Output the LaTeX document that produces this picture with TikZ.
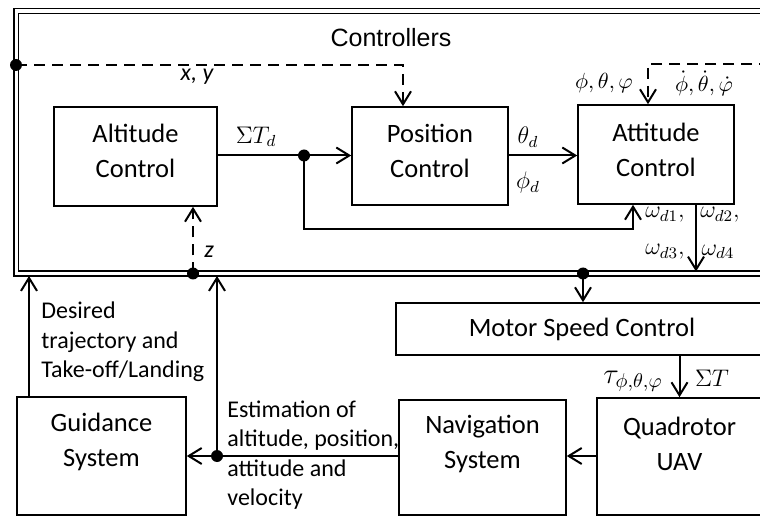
\documentclass[tikz,border=0pt]{standalone}
\usepackage{fontspec}
\setmainfont{Carlito}
\newfontfamily\titlefont{Liberation Sans}
\usetikzlibrary{arrows.meta,calc}
\newcommand\upx{0.5pt}
\begin{document}
\begin{tikzpicture}[x=0.5pt,y=-0.5pt,
  box/.style={draw, line width=0.8pt, inner sep=0pt},
  btext/.style={font=\fontsize{13.25}{17.5}\selectfont, align=center, inner sep=0pt},
  lbl/.style={font=\fontsize{12}{14.7}\selectfont, align=left, inner sep=0pt},
  mlbl/.style={font=\fontsize{12}{14}\selectfont, inner sep=0pt},
  slbl/.style={font=\fontsize{11}{13}\selectfont, inner sep=0pt},
  ln/.style={line width=1pt},
  arr/.style={line width=1pt, -{Straight Barb[length=6.5pt,width=8pt,line width=1pt]}},
  darr/.style={arr, dash pattern=on 5.5pt off 3.5pt},
  jdot/.style={circle, fill, inner sep=0pt, minimum size=6pt},
]
\useasboundingbox (0,0) rectangle (760,518);
\clip (0,0) rectangle (760,518);

% frame
\draw[line width=0.75pt, double, double distance=1.6pt] (16.3,11) rectangle (800,273.5);
\node[font=\titlefont\fontsize{12.5}{15}\selectfont] (title) at (391,38) {Controllers};

% boxes
\node[box, minimum width=163*\upx, minimum height=99*\upx] (alt) at (135.5,156.5) {};
\node[box, minimum width=156*\upx, minimum height=98*\upx] (pos) at (430,156) {};
\node[box, minimum width=156*\upx, minimum height=99*\upx] (att) at (656,154.5) {};
\node[box, btext, minimum width=372*\upx, minimum height=52*\upx] (mot) at (582,329) {Motor Speed Control};
\node[box, minimum width=169*\upx, minimum height=118*\upx] (gui) at (101.5,456) {};
\node[box, minimum width=167*\upx, minimum height=115*\upx] (nav) at (482.5,457.5) {};
\node[box, minimum width=165*\upx, minimum height=117*\upx] (quad) at (679.5,456.5) {};

\node[btext] (altT) at (135.5,150.5) {Altitude\\Control};
\node[btext] (posT) at (430,150.5) {Position\\Control};
\node[btext] (attT) at (656,150) {Attitude\\Control};
\node[btext] (guiT) at (101.5,441.5) {Guidance\\System};
\node[btext] (navT) at (482.5,444) {Navigation\\System};
\node[btext] (quadT) at (679.5,444) {Quadrotor\\UAV};

% junction dots
\node[jdot] (dxy) at (16,65) {};
\node[jdot] (dT) at (304,155.5) {};
\node[jdot] (dz) at (193,273.5) {};
\node[jdot] (dm) at (583,273.5) {};
\node[jdot] (dest) at (217,456) {};

% free ends
\coordinate (fb) at (633,229);
\coordinate (wdn) at (696,271.5);
\coordinate (rdash) at (770,64);
\coordinate (eup) at (217,276);
\coordinate (gup) at (29,276);

% connectors
\draw[darr] (dxy.center) -| ([xshift=-27*\upx]pos.north);
\draw[ln] (alt.east |- dT) -- (dT.center);
\draw[arr] (dT.center) -- (pos.west |- dT);
\draw[arr] (dT.center) |- (fb) -- (att.south -| fb);
\draw[arr] (pos.east |- dT) -- (att.west |- dT);
\draw[arr] (att.south -| wdn) -- (wdn);
\draw[darr] (rdash) -| ([xshift=-8*\upx]att.north);
\draw[darr] (dz.center) -- (alt.south -| dz);
\draw[arr] (dm.center) -- (mot.north -| dm);
\draw[arr] (quad.north |- mot.south) -- (quad.north);
\draw[arr] (quad.west |- dest) -- (nav.east |- dest);
\draw[ln] (nav.west |- dest) -- (dest.center);
\draw[arr] (dest.center) -- (gui.east |- dest);
\draw[arr] (dest.center) -- (eup);
\draw[arr] (gui.north -| gup) -- (gup);

% labels
\node[lbl] (lxy) at (197,77) {\itshape x, y};
\node[lbl] (lz) at (209,252) {\itshape z};
\node[mlbl] (lT) at (256,137) {$\Sigma T_d$};
\node[mlbl] (lth) at (528,137) {$\theta_d$};
\node[mlbl] (lph) at (528,183) {$\phi_d$};
\node[slbl] (lang) at (604,83) {$\phi,\theta,\varphi$};
\node[slbl] (ldang) at (704,83) {$\dot\phi,\dot\theta,\dot\varphi$};
\node[mlbl] (lw1) at (665,215) {$\omega_{d1},$};
\node[mlbl] (lw2) at (720,215) {$\omega_{d2},$};
\node[mlbl] (lw3) at (665,252) {$\omega_{d3},$};
\node[mlbl] (lw4) at (718,252) {$\omega_{d4}$};
\node[mlbl, font=\fontsize{14}{16}\selectfont] (ltau) at (633,381) {$\tau_{\phi,\theta,\varphi}$};
\node[mlbl] (lsum) at (712,378) {$\Sigma T$};
\node[lbl, anchor=west] (ldes) at (41,342) {Desired\\trajectory and\\Take-off/Landing};
\node[lbl, anchor=west] (lest) at (227,455) {Estimation of\\altitude, position,\\attitude and\\velocity};
\end{tikzpicture}
\end{document}
